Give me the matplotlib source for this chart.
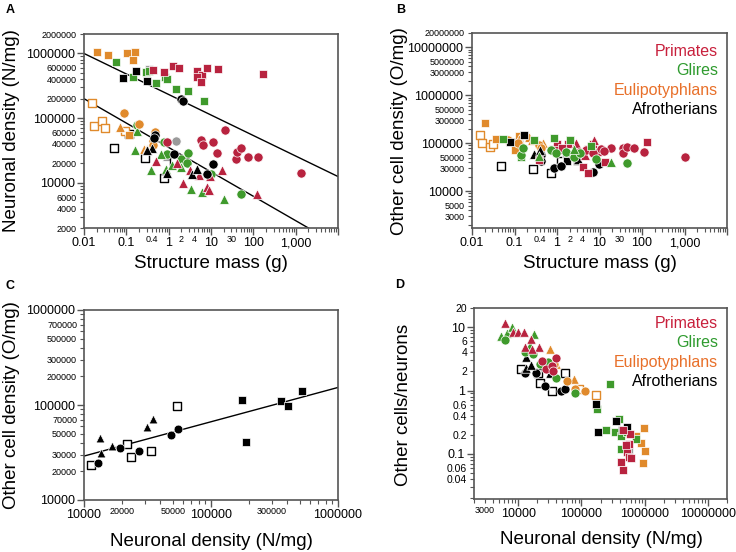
import numpy as np
import matplotlib
matplotlib.use('Agg')
import matplotlib.pyplot as plt
from matplotlib.ticker import FixedLocator, FuncFormatter

plt.rcParams['font.family'] = ['Liberation Sans', 'DejaVu Sans']

RED = '#b8233f'
GREEN = '#3f9a2c'
ORANGE = '#e08a2c'
BLACK = '#000000'
GRAY = '#9a9a9a'

# ── Panel A: neuronal density vs structure mass ───────────────────────────
a_red_sq_x = [0.42, 0.77, 1.24, 1.76, 4.7, 6.0, 4.56, 5.8, 8.2, 14.4, 170]
a_red_sq_y = [5.6e5, 5.1e5, 6.3e5, 6.0e5, 5.4e5, 4.64e5, 4.27e5, 3.6e5, 6.0e5, 5.8e5, 4.76e5]
a_red_ci_x = [0.93, 21.9, 5.8, 6.6, 11.2, 13.6, 38.6, 42, 52, 75, 129, 1365]
a_red_ci_y = [4.2e4, 6.6e4, 4.6e4, 3.9e4, 4.3e4, 2.9e4, 2.3e4, 3.0e4, 3.5e4, 2.5e4, 2.5e4, 1.4e4]
a_red_tr_x = [0.51, 1.58, 2.2, 3.2, 5.2, 7.9, 8.9, 9.5, 18, 122]
a_red_tr_y = [2.2e4, 2.0e4, 1.0e4, 1.6e4, 1.3e4, 8.5e3, 7.8e3, 1.26e4, 1.6e4, 6.6e3]
a_grn_sq_x = [0.057, 0.147, 0.294, 0.34, 0.51, 0.80, 0.91, 1.47, 2.9, 6.9]
a_grn_sq_y = [7.4e5, 4.27e5, 5.2e5, 5.35e5, 3.48e5, 4.37e5, 3.97e5, 2.84e5, 2.6e5, 1.82e5]
a_grn_ci_x = [0.176, 0.79, 0.93, 2.0, 2.9, 2.7, 9.8, 51]
a_grn_ci_y = [7.9e4, 4.2e4, 2.8e4, 2.3e4, 2.9e4, 2.0e4, 1.38e4, 6.6e3]
a_grn_tr_x = [0.164, 0.176, 0.38, 0.67, 0.85, 1.22, 2.0, 3.3, 6.2, 20.8]
a_grn_tr_y = [3.2e4, 6.3e4, 1.6e4, 2.8e4, 1.66e4, 1.9e4, 1.78e4, 8.1e3, 7.1e3, 5.6e3]
a_org_sq_x = [0.020, 0.037, 0.105, 0.147, 0.163, 0.118]
a_org_sq_y = [1.05e6, 9.5e5, 1.01e6, 7.96e5, 1.05e6, 5.5e4]
a_org_op_x = [0.0152, 0.0173, 0.0273, 0.0316, 0.095]
a_org_op_y = [1.74e5, 7.5e4, 8.9e4, 7.0e4, 6.3e4]
a_org_ci_x = [0.0865, 0.204, 0.48, 0.42, 0.42]
a_org_ci_y = [1.2e5, 8.1e4, 6.2e4, 4.5e4, 3.9e4]
a_org_tr_x = [0.072, 0.26, 0.30]
a_org_tr_y = [7.4e4, 3.36e4, 3.3e4]
a_blk_sq_x = [0.173, 0.085, 0.316]
a_blk_sq_y = [5.42e5, 4.12e5, 3.7e5]
a_blk_op_x = [0.052, 0.118, 0.28, 0.77, 1.34]
a_blk_op_y = [3.5e4, 5.7e4, 2.4e4, 1.2e4, 2.2e4]
a_blk_ci_x = [1.93, 2.19, 0.48, 0.46, 1.31, 11.2, 8.2]
a_blk_ci_y = [1.96e5, 1.82e5, 5.5e4, 5.0e4, 2.76e4, 1.98e4, 1.35e4]
a_blk_tr_x = [0.41, 0.30, 0.93, 3.5, 4.56]
a_blk_tr_y = [3.5e4, 3.2e4, 1.4e4, 1.35e4, 1.66e4]
a_gry_sq_x, a_gry_sq_y = [0.334], [5.76e5]
a_gry_ci_x, a_gry_ci_y = [1.52], [4.4e4]
a_gry_tr_x, a_gry_tr_y = [0.91], [2.6e4]
# fitted lines (end points)
a_line1_x, a_line1_y = [0.01, 10000], [1.0e6, 1.25e4]
a_line2_x, a_line2_y = [0.01, 2000], [2.0e5, 2.0e3]

# ── Panel B: other cell density vs structure mass ─────────────────────────
b_org_sq_x = [0.02, 0.036, 0.10, 0.13]
b_org_sq_y = [2.7e5, 1.25e5, 7.2e4, 1.42e5]
b_org_op_x = [0.0154, 0.0175, 0.026, 0.032]
b_org_op_y = [1.45e5, 1.0e5, 8.5e4, 9.7e4]
b_org_tr_x = [0.08, 0.13, 0.225, 0.26, 0.48]
b_org_tr_y = [1.17e5, 1.23e5, 1.34e5, 1.17e5, 1.0e5]
b_org_ci_x = [0.07, 0.124, 0.385, 0.42]
b_org_ci_y = [1.17e5, 1.03e5, 9.2e4, 7.9e4]
b_grn_sq_x = [0.055, 0.84, 2.0, 0.143, 6.3, 0.29]
b_grn_sq_y = [1.25e5, 1.27e5, 1.17e5, 5.1e4, 8.8e4, 1.17e5]
b_grn_ci_x = [0.14, 0.157, 0.72, 0.95, 2.55, 1.62, 3.46, 8.2, 45]
b_grn_ci_y = [5.7e4, 7.9e4, 7.2e4, 6.2e4, 5.1e4, 6.7e4, 6.2e4, 4.8e4, 3.9e4]
b_grn_tr_x = [0.37, 18.5, 2.46]
b_grn_tr_y = [5.5e4, 4.1e4, 7.5e4]
b_blk_sq_x = [0.171, 0.08, 2.04, 2.95, 1.69]
b_blk_sq_y = [1.5e5, 1.05e5, 1.17e5, 4.26e4, 4.3e4]
b_blk_op_x = [0.049, 0.27, 0.72, 0.12, 1.24]
b_blk_op_y = [3.4e4, 2.85e4, 2.35e4, 1.03e5, 4.26e4]
b_blk_ci_x = [0.865, 1.24, 6.9, 9.8, 0.41, 0.42]
b_blk_ci_y = [3.0e4, 3.4e4, 2.45e4, 3.7e4, 5.7e4, 4.3e4]
b_blk_tr_x = [0.28, 0.40, 3.05]
b_blk_tr_y = [6.0e4, 7.2e4, 4.6e4]
b_red_sq_x = [0.385, 0.98, 1.78, 5.5, 4.0, 5.5, 13.3, 133, 6.9, 9.0, 1.04, 1.3]
b_red_sq_y = [4.5e4, 9.5e4, 9.7e4, 7.5e4, 3.2e4, 2.4e4, 4.0e4, 1.05e5, 9.7e4, 6.7e4, 7.2e4, 7.9e4]
b_red_tr_x = [2.8, 7.5, 4.6]
b_red_tr_y = [1.0e5, 1.17e5, 5.7e4]
b_red_ci_x = [18.5, 35, 36, 45, 65, 111, 1050, 10.7, 13, 4.8, 3.3, 6.9]
b_red_ci_y = [7.9e4, 7.9e4, 6.4e4, 8.5e4, 7.9e4, 6.7e4, 5.1e4, 7.5e4, 6.9e4, 7.2e4, 6.7e4, 6.2e4]
b_gry_sq_x, b_gry_sq_y = [0.79, 1.62], [7.5e4, 6.0e4]
b_gry_tr_x, b_gry_tr_y = [0.37], [6.7e4]

# ── Panel C: afrotherians, other cell density vs neuronal density ─────────
c_op_x = [11400, 21800, 23300, 33500, 54300]
c_op_y = [23400, 38800, 28100, 33000, 98400]
c_ci_x = [13000, 19100, 27100, 48700, 54700]
c_ci_y = [24300, 35300, 32800, 48000, 55800]
c_tr_x = [13400, 13600, 16500, 31100, 34800]
c_tr_y = [45300, 31500, 37300, 58200, 70600]
c_sq_x = [176600, 190000, 358000, 406000, 523000]
c_sq_y = [112900, 40800, 110000, 98400, 140000]
c_line_x, c_line_y = [10000, 1000000], [29000, 153000]

# ── Panel D: other cells/neurons vs neuronal density ──────────────────────
d_red_tr_x = [6200, 8200, 10000, 12200, 15700, 12700, 21200, 16800]
d_red_tr_y = [11.6, 8.5, 8.5, 8.5, 6.6, 4.9, 4.8, 4.5]
d_grn_tr_x = [5300, 6600, 8000, 17700, 15500]
d_grn_tr_y = [7.3, 8.2, 10.2, 7.7, 5.3]
d_grn_ci_x = [6200, 12700, 21900, 40000, 78500, 17000, 30000]
d_grn_ci_y = [6.3, 4.0, 2.6, 1.6, 0.9, 3.7, 2.8]
d_red_ci_x = [40000, 28000, 33600, 23400, 36000]
d_red_ci_y = [3.3, 2.2, 2.4, 2.9, 2.0]
d_blk_ci_x = [12700, 19000, 27000, 48000, 54500]
d_blk_ci_y = [1.9, 1.9, 1.2, 1.0, 1.05]
d_blk_tr_x = [13400, 13500, 16200, 31600]
d_blk_tr_y = [3.4, 2.3, 2.5, 1.9]
d_blk_op_x = [10900, 22500, 33600, 55800, 20500]
d_blk_op_y = [2.2, 1.3, 1.0, 1.9, 1.9]
d_org_tr_x = [31600, 76500, 40000]
d_org_tr_y = [4.5, 1.5, 2.6]
d_org_ci_x = [60000, 80400, 115700, 37000]
d_org_ci_y = [1.4, 1.07, 1.0, 2.6]
d_org_op_x = [91000, 170000]
d_org_op_y = [1.05, 0.86]
d_grn_sq_x = [280000, 176000, 248000, 336000, 388000, 427000, 417000, 740000, 520000]
d_grn_sq_y = [1.29, 0.52, 0.24, 0.22, 0.36, 0.19, 0.12, 0.17, 0.22]
d_blk_sq_x = [170000, 183000, 348000, 520000, 440000]
d_blk_sq_y = [0.62, 0.22, 0.33, 0.27, 0.24]
d_red_sq_x = [580000, 460000, 565000, 520000, 560000, 427000, 460000, 610000, 500000]
d_red_sq_y = [0.21, 0.24, 0.142, 0.107, 0.09, 0.075, 0.055, 0.085, 0.14]
d_org_sq_x = [975000, 740000, 885000, 1000000, 950000]
d_org_sq_y = [0.26, 0.19, 0.147, 0.11, 0.072]
d_gry_sq_x, d_gry_sq_y = [560000], [0.11]

legend_names = ['Primates', 'Glires', 'Eulipotyphlans', 'Afrotherians']
legend_colors = ['#c8203c', '#2f9b2f', '#e8702a', '#000000']

SIZE_SCALE = {'s': 0.78, 'o': 1.0, '^': 1.1}


def px_axes(fig, left, top, right, bottom):
    W, H = 736.0, 552.0
    return fig.add_axes([left / W, 1 - bottom / H, (right - left) / W, (bottom - top) / H])


def dots(ax, x, y, color, marker, open_=False, s=44):
    s = s * SIZE_SCALE[marker]
    if open_:
        ax.scatter(x, y, s=s * 0.85, marker=marker, facecolor='white', edgecolor=color,
                   linewidth=1.0, zorder=3)
    else:
        ax.scatter(x, y, s=s, marker=marker, facecolor=color, edgecolor='white',
                   linewidth=0.5, zorder=3)


def minor_vals(lo, hi):
    vals = []
    for e in range(int(np.floor(np.log10(lo))), int(np.ceil(np.log10(hi))) + 1):
        for m in range(2, 10):
            v = m * 10.0 ** e
            if lo <= v <= hi:
                vals.append(v)
    return vals


def lookup(table):
    def fmt(v, pos):
        for k, t in table.items():
            if abs(np.log10(k) - np.log10(v)) < 1e-6:
                return t
        return ''
    return FuncFormatter(fmt)


def style_axis(axis, lo, hi, major, major_lab, minor_lab):
    axis.set_major_locator(FixedLocator(major))
    axis.set_major_formatter(lookup(major_lab))
    axis.set_minor_locator(FixedLocator(minor_vals(lo, hi)))
    axis.set_minor_formatter(lookup(minor_lab))


def frame(ax, xlim, ylim):
    ax.set_xscale('log')
    ax.set_yscale('log')
    ax.set_xlim(*xlim)
    ax.set_ylim(*ylim)
    for sp in ax.spines.values():
        sp.set_color('#555555')
        sp.set_linewidth(1.2)
    ax.tick_params(which='major', length=5, width=1.0, color='#555555', labelsize=9, pad=1.5)
    ax.tick_params(which='minor', length=3, width=0.8, color='#555555', labelsize=6.5, pad=2)


def legend(fig, x, y0, dy):
    for i, (name, col) in enumerate(zip(legend_names, legend_colors)):
        fig.text(x / 736, 1 - (y0 + i * dy) / 552, name, color=col, fontsize=11.5,
                 ha='right', va='center')


fig = plt.figure(figsize=(7.36, 5.52), dpi=100)

# ── A ──
ax = px_axes(fig, 84, 34, 338, 228)
frame(ax, (0.01, 10000), (2000, 2e6))
style_axis(ax.xaxis, 0.01, 10000, [0.01, 0.1, 1, 10, 100, 1000, 10000],
           {0.01: '0.01', 0.1: '0.1', 1: '1', 10: '10', 100: '100', 1000: '1,000'},
           {0.4: '0.4', 2: '2', 4: '4', 30: '30'})
style_axis(ax.yaxis, 2000, 2e6, [1e4, 1e5, 1e6],
           {1e4: '10000', 1e5: '100000', 1e6: '1000000'},
           {2000: '2000', 4000: '4000', 6000: '6000', 2e4: '20000', 4e4: '40000',
            6e4: '60000', 2e5: '200000', 4e5: '400000', 6e5: '600000', 2e6: '2000000'})
ax.plot(a_line1_x, a_line1_y, color='black', lw=1.0, zorder=2)
ax.plot(a_line2_x, a_line2_y, color='black', lw=1.0, zorder=2)
for x, y, c, m, o in [
        (a_gry_sq_x, a_gry_sq_y, GRAY, 's', False), (a_gry_ci_x, a_gry_ci_y, GRAY, 'o', False),
        (a_gry_tr_x, a_gry_tr_y, GRAY, '^', False),
        (a_blk_op_x, a_blk_op_y, BLACK, 's', True), (a_org_op_x, a_org_op_y, ORANGE, 's', True),
        (a_grn_sq_x, a_grn_sq_y, GREEN, 's', False), (a_grn_ci_x, a_grn_ci_y, GREEN, 'o', False),
        (a_grn_tr_x, a_grn_tr_y, GREEN, '^', False),
        (a_red_sq_x, a_red_sq_y, RED, 's', False), (a_red_ci_x, a_red_ci_y, RED, 'o', False),
        (a_red_tr_x, a_red_tr_y, RED, '^', False),
        (a_org_sq_x, a_org_sq_y, ORANGE, 's', False), (a_org_ci_x, a_org_ci_y, ORANGE, 'o', False),
        (a_org_tr_x, a_org_tr_y, ORANGE, '^', False),
        (a_blk_sq_x, a_blk_sq_y, BLACK, 's', False), (a_blk_ci_x, a_blk_ci_y, BLACK, 'o', False),
        (a_blk_tr_x, a_blk_tr_y, BLACK, '^', False)]:
    dots(ax, x, y, c, m, o)

# ── B ──
ax = px_axes(fig, 472, 33, 727, 228)
frame(ax, (0.01, 10000), (1700, 2e7))
style_axis(ax.xaxis, 0.01, 10000, [0.01, 0.1, 1, 10, 100, 1000, 10000],
           {0.01: '0.01', 0.1: '0.1', 1: '1', 10: '10', 100: '100', 1000: '1,000'},
           {0.4: '0.4', 2: '2', 4: '4', 30: '30'})
style_axis(ax.yaxis, 1700, 2e7, [1e4, 1e5, 1e6, 1e7],
           {1e4: '10000', 1e5: '100000', 1e6: '1000000', 1e7: '10000000'},
           {3000: '3000', 5000: '5000', 3e4: '30000', 5e4: '50000', 3e5: '300000',
            5e5: '500000', 3e6: '3000000', 5e6: '5000000', 2e7: '20000000'})
for x, y, c, m, o in [
        (b_org_op_x, b_org_op_y, ORANGE, 's', True), (b_blk_op_x, b_blk_op_y, BLACK, 's', True),
        (b_gry_sq_x, b_gry_sq_y, GRAY, 's', False), (b_gry_tr_x, b_gry_tr_y, GRAY, '^', False),
        (b_org_sq_x, b_org_sq_y, ORANGE, 's', False), (b_org_tr_x, b_org_tr_y, ORANGE, '^', False),
        (b_org_ci_x, b_org_ci_y, ORANGE, 'o', False),
        (b_blk_sq_x, b_blk_sq_y, BLACK, 's', False), (b_blk_ci_x, b_blk_ci_y, BLACK, 'o', False),
        (b_blk_tr_x, b_blk_tr_y, BLACK, '^', False),
        (b_red_sq_x, b_red_sq_y, RED, 's', False), (b_red_tr_x, b_red_tr_y, RED, '^', False),
        (b_red_ci_x, b_red_ci_y, RED, 'o', False),
        (b_grn_sq_x, b_grn_sq_y, GREEN, 's', False), (b_grn_ci_x, b_grn_ci_y, GREEN, 'o', False),
        (b_grn_tr_x, b_grn_tr_y, GREEN, '^', False)]:
    dots(ax, x, y, c, m, o)
legend(fig, 718, 51, 19.5)

# ── C ──
ax = px_axes(fig, 84, 310, 338, 500)
frame(ax, (10000, 1e6), (10000, 1e6))
style_axis(ax.xaxis, 10000, 1e6, [1e4, 1e5, 1e6],
           {1e4: '10000', 1e5: '100000', 1e6: '1000000'},
           {2e4: '20000', 5e4: '50000', 3e5: '300000'})
style_axis(ax.yaxis, 10000, 1e6, [1e4, 1e5, 1e6],
           {1e4: '10000', 1e5: '100000', 1e6: '1000000'},
           {2e4: '20000', 3e4: '30000', 5e4: '50000', 7e4: '70000',
            2e5: '200000', 3e5: '300000', 5e5: '500000', 7e5: '700000'})
ax.plot(c_line_x, c_line_y, color='black', lw=1.0, zorder=2)
dots(ax, c_op_x, c_op_y, BLACK, 's', True, s=40)
dots(ax, c_ci_x, c_ci_y, BLACK, 'o', False, s=40)
dots(ax, c_tr_x, c_tr_y, BLACK, '^', False, s=36)
dots(ax, c_sq_x, c_sq_y, BLACK, 's', False, s=38)

# ── D ──
ax = px_axes(fig, 474, 308, 727, 499)
frame(ax, (2000, 2e7), (0.0195, 20))
style_axis(ax.xaxis, 2000, 2e7, [1e4, 1e5, 1e6, 1e7],
           {1e4: '10000', 1e5: '100000', 1e6: '1000000', 1e7: '10000000'},
           {3000: '3000'})
style_axis(ax.yaxis, 0.0195, 20, [0.1, 1, 10],
           {0.1: '0.1', 1: '1', 10: '10'},
           {0.04: '0.04', 0.06: '0.06', 0.2: '0.2', 0.4: '0.4', 0.6: '0.6',
            2: '2', 4: '4', 6: '6', 20: '20'})
ax.tick_params(axis='y', which='minor', labelsize=7.5)
for x, y, c, m, o in [
        (d_blk_op_x, d_blk_op_y, BLACK, 's', True), (d_org_op_x, d_org_op_y, ORANGE, 's', True),
        (d_gry_sq_x, d_gry_sq_y, GRAY, 's', False),
        (d_blk_ci_x, d_blk_ci_y, BLACK, 'o', False), (d_blk_tr_x, d_blk_tr_y, BLACK, '^', False),
        (d_org_tr_x, d_org_tr_y, ORANGE, '^', False), (d_org_ci_x, d_org_ci_y, ORANGE, 'o', False),
        (d_grn_tr_x, d_grn_tr_y, GREEN, '^', False), (d_grn_ci_x, d_grn_ci_y, GREEN, 'o', False),
        (d_red_tr_x, d_red_tr_y, RED, '^', False), (d_red_ci_x, d_red_ci_y, RED, 'o', False),
        (d_org_sq_x, d_org_sq_y, ORANGE, 's', False), (d_grn_sq_x, d_grn_sq_y, GREEN, 's', False),
        (d_blk_sq_x, d_blk_sq_y, BLACK, 's', False), (d_red_sq_x, d_red_sq_y, RED, 's', False)]:
    dots(ax, x, y, c, m, o, s=42)
legend(fig, 718, 323, 19.5)

# ── labels ──
lab = dict(fontsize=13.5)
fig.text(12 / 736, 1 - 131 / 552, 'Neuronal density (N/mg)', rotation=90, ha='center', va='center', **lab)
fig.text(211 / 736, 1 - 263 / 552, 'Structure mass (g)', ha='center', va='center', **lab)
fig.text(400 / 736, 1 - 131 / 552, 'Other cell density (O/mg)', rotation=90, ha='center', va='center', **lab)
fig.text(600 / 736, 1 - 263 / 552, 'Structure mass (g)', ha='center', va='center', **lab)
fig.text(12 / 736, 1 - 405 / 552, 'Other cell density (O/mg)', rotation=90, ha='center', va='center', **lab)
fig.text(211 / 736, 1 - 542 / 552, 'Neuronal density (N/mg)', ha='center', va='center', **lab)
fig.text(404 / 736, 1 - 405 / 552, 'Other cells/neurons', rotation=90, ha='center', va='center', **lab)
fig.text(601 / 736, 1 - 540 / 552, 'Neuronal density (N/mg)', ha='center', va='center', **lab)

for t, x, y in [('A', 10, 10), ('B', 401, 10), ('C', 10, 286), ('D', 400, 285)]:
    fig.text(x / 736, 1 - y / 552, t, fontsize=9, fontweight='bold', ha='center', va='center')

fig.savefig('out.png', dpi=100, facecolor='white')
